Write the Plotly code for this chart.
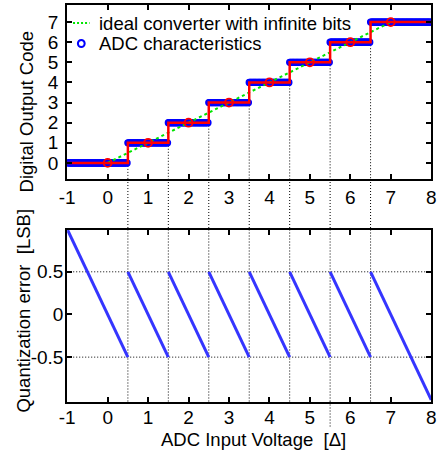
import numpy as np
import plotly.graph_objects as go

# 3-bit mid-tread quantizer: decision edges and output codes
step_edges = [-1.0, 0.5, 1.5, 2.5, 3.5, 4.5, 5.5, 6.5, 8.0]
step_codes = [0, 1, 2, 3, 4, 5, 6, 7]

# ideal converter (infinite resolution): output follows input
ideal_in = [0, 1, 2, 3, 4, 5, 6, 7]
ideal_out = [0, 1, 2, 3, 4, 5, 6, 7]

x_ticks = [-1, 0, 1, 2, 3, 4, 5, 6, 7, 8]
code_ticks = [0, 1, 2, 3, 4, 5, 6, 7]
err_ticks = [-0.5, 0, 0.5]

legend_labels = ["ideal converter with infinite bits", "ADC characteristics"]

x_range = [-1, 8]
code_range = [-0.8, 7.85]
err_range = [-1.02, 0.99]

W, H = 444, 450
top_dom = [1 - 179 / H, 1 - 5 / H]
bot_dom = [1 - 401.5 / H, 1 - 230 / H]
x_dom = [61 / W, 436 / W]

FONT = "Liberation Sans, Arial, sans-serif"
TICK_SIZE = 19
TEXT_SIZE = 18.5

GREEN = "#00e600"
BLUE = "#0000ff"
RED = "#ff0000"


def px(xp, yp):
    """pixel position -> paper coordinates"""
    return xp / W, 1 - yp / H


def labels(vals):
    return [f"{v:g}" for v in vals]


# input voltage sweep and the quantizer output for each sample
vin = np.linspace(x_range[0], x_range[1], 451)
idx = np.searchsorted(np.array(step_edges[1:-1]), vin, side="right")
vout = np.array(step_codes)[idx]

# staircase outline
stair_x = list(step_edges)
stair_y = list(step_codes) + [step_codes[-1]]

# quantization error, one saw-tooth segment per code
err_x, err_y = [], []
for k, c in enumerate(step_codes):
    a, b = step_edges[k], step_edges[k + 1]
    err_x += [a, b, None]
    err_y += [c - a, c - b, None]

fig = go.Figure()

fig.add_trace(go.Scatter(
    x=vin, y=vout, mode="markers", name=legend_labels[1],
    marker=dict(symbol="circle-open", size=5.5, color=BLUE,
                line=dict(width=1.8, color=BLUE)),
    xaxis="x", yaxis="y"))
fig.add_trace(go.Scatter(
    x=ideal_in, y=ideal_out, mode="lines", name=legend_labels[0],
    line=dict(color=GREEN, width=2, dash="dot"),
    xaxis="x", yaxis="y"))
fig.add_trace(go.Scatter(
    x=stair_x, y=stair_y, mode="lines", line_shape="hv",
    line=dict(color=RED, width=2.5),
    xaxis="x", yaxis="y"))
fig.add_trace(go.Scatter(
    x=ideal_in, y=step_codes, mode="markers",
    marker=dict(symbol="circle-open", size=8, color=RED,
                line=dict(width=1.8, color=RED)),
    xaxis="x", yaxis="y"))

fig.add_trace(go.Scatter(
    x=err_x, y=err_y, mode="lines", connectgaps=False,
    line=dict(color="#3535ff", width=3),
    xaxis="x2", yaxis="y2"))

dot = dict(color="black", width=1, dash="1px,2px")
shapes = []
for k in range(1, len(step_edges) - 1):
    xv = step_edges[k]
    shapes.append(dict(type="line", xref="x", yref="y", x0=xv, x1=xv,
                       y0=step_codes[k - 1], y1=code_range[0], line=dot, layer="below"))
    shapes.append(dict(type="line", xref="x", yref="paper", x0=xv, x1=xv,
                       y0=top_dom[0], y1=bot_dom[1], line=dot, layer="below"))
    shapes.append(dict(type="line", xref="x2", yref="y2 domain", x0=xv, x1=xv,
                       y0=0, y1=1, line=dot, layer="below"))
shapes.append(dict(type="line", xref="x2", yref="paper", x0=5.5, x1=5.5,
                   y0=bot_dom[0], y1=1 - 428 / H, line=dot, layer="below"))
for yv in (-0.5, 0.5):
    shapes.append(dict(type="line", xref="x2 domain", yref="y2", x0=0, x1=1,
                       y0=yv, y1=yv, line=dot, layer="below"))

# legend keys (drawn in the upper-left corner of the top panel)
lx0, ly0 = px(67, 23)
lx1, _ = px(84, 23)
shapes.append(dict(type="line", xref="paper", yref="paper", x0=lx0, x1=lx1,
                   y0=ly0, y1=ly0, line=dict(color=GREEN, width=2, dash="2px,2px")))
cx0, cy0 = px(72, 40)
cx1, cy1 = px(79, 47)
shapes.append(dict(type="circle", xref="paper", yref="paper", x0=cx0, x1=cx1,
                   y0=cy1, y1=cy0, line=dict(color=BLUE, width=2)))

axis_common = dict(showline=True, linecolor="black", linewidth=2, mirror="ticks",
                   ticks="inside", ticklen=5, tickwidth=1.5, tickcolor="black",
                   showgrid=False, zeroline=False,
                   tickfont=dict(family=FONT, size=TICK_SIZE, color="black"))

ann_font = dict(family=FONT, size=TEXT_SIZE, color="black")
annotations = []
for (xp, yp), text in zip([(92, 23), (92, 43)], legend_labels):
    ax, ay = px(xp, yp)
    annotations.append(dict(text=text, xref="paper", yref="paper", x=ax, y=ay,
                            showarrow=False, xanchor="left", yanchor="middle",
                            font=ann_font))
for (xp, yp), text, ang in [((19, 112), "Digital Output Code", -90),
                            ((15, 311), "Quantization error \u00a0[LSB]", -90),
                            ((253, 439.5), "ADC Input Voltage \u00a0[\u0394]", 0)]:
    ax, ay = px(xp, yp)
    annotations.append(dict(text=text, xref="paper", yref="paper", x=ax, y=ay,
                            textangle=ang, showarrow=False, xanchor="center",
                            yanchor="middle", font=ann_font))

fig.update_layout(
    width=W, height=H,
    margin=dict(l=0, r=0, t=0, b=0),
    paper_bgcolor="white", plot_bgcolor="white",
    font=dict(family=FONT, size=TEXT_SIZE, color="black"),
    showlegend=False,
    xaxis=dict(domain=x_dom, anchor="y", range=x_range, tickvals=x_ticks,
               ticktext=labels(x_ticks), **axis_common),
    yaxis=dict(domain=top_dom, anchor="x", range=code_range, tickvals=code_ticks,
               ticktext=labels(code_ticks), ticklabelstandoff=3, **axis_common),
    xaxis2=dict(domain=x_dom, anchor="y2", range=x_range, tickvals=x_ticks,
                ticktext=labels(x_ticks), ticklabelstandoff=-2, **axis_common),
    yaxis2=dict(domain=bot_dom, anchor="x2", range=err_range, tickvals=err_ticks,
                ticktext=labels(err_ticks), ticklabelstandoff=-2, **axis_common),
    shapes=shapes,
    annotations=annotations,
)

fig.write_html("out.html")
